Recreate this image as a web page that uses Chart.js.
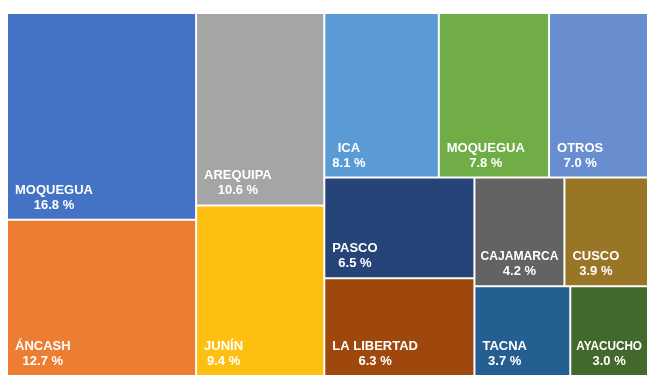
<!DOCTYPE html>
<html lang="es">
<head>
<meta charset="utf-8">
<title>Participación por región</title>
<script src="https://cdn.jsdelivr.net/npm/chart.js@4.4.1/dist/chart.umd.min.js"></script>
<style>
  html, body { margin: 0; padding: 0; background: #ffffff; }
  #wrap { width: 648px; height: 376px; position: relative; }
</style>
</head>
<body>
<div id="wrap"><canvas id="chart"></canvas></div>
<script>
// Regions, ordered from largest to smallest share
const regions = ['MOQUEGUA', 'ÁNCASH', 'AREQUIPA', 'JUNÍN', 'ICA', 'MOQUEGUA', 'OTROS',
                 'PASCO', 'LA LIBERTAD', 'CAJAMARCA', 'CUSCO', 'TACNA', 'AYACUCHO'];
// Share of the total, in percent
const shares = [16.8, 12.7, 10.6, 9.4, 8.1, 7.8, 7.0, 6.5, 6.3, 4.2, 3.9, 3.7, 3.0];
// Fill colour of each tile
const tileColors = ['#4472C4', '#ED7D31', '#A5A5A5', '#FCBF12', '#5B9BD5', '#70AD47', '#698ED0',
                    '#264478', '#9E480E', '#636363', '#997526', '#255E91', '#43682B'];
// How many consecutive tiles go into each strip of the layout
const stripSizes = [2, 2, 3, 2, 2, 1, 1];

// A small strip treemap: each strip takes the share of the remaining box
// given by its values, laid against the shorter side of that box.
class TreemapController extends Chart.DatasetController {
  static id = 'treemap';
  static defaults = { dataElementType: 'bar', datasetElementType: false };

  layout() {
    const meta = this._cachedMeta;
    const xs = meta.xScale, ys = meta.yScale;
    const values = this.getDataset().data;
    const W = Math.abs(xs.getPixelForValue(1) - xs.getPixelForValue(0));
    const H = Math.abs(ys.getPixelForValue(1) - ys.getPixelForValue(0));
    const strips = this.getDataset().strips;
    const box = { x0: 0, y0: 0, x1: 1, y1: 1 };
    let remaining = values.reduce((a, b) => a + b, 0);
    const cells = [];
    let i = 0;
    for (const n of strips) {
      const items = values.slice(i, i + n);
      const s = items.reduce((a, b) => a + b, 0);
      const bw = (box.x1 - box.x0) * W, bh = (box.y1 - box.y0) * H;
      if (bw >= bh) {
        // column on the left, tiles stacked top to bottom
        const cut = box.x0 + (box.x1 - box.x0) * s / remaining;
        let y = box.y0;
        items.forEach(v => {
          const y2 = y + (box.y1 - box.y0) * v / s;
          cells.push({ x0: box.x0, x1: cut, y0: y, y1: y2 });
          y = y2;
        });
        box.x0 = cut;
      } else {
        // row along the top, tiles side by side
        const cut = box.y0 + (box.y1 - box.y0) * s / remaining;
        let x = box.x0;
        items.forEach(v => {
          const x2 = x + (box.x1 - box.x0) * v / s;
          cells.push({ x0: x, x1: x2, y0: box.y0, y1: cut });
          x = x2;
        });
        box.y0 = cut;
      }
      remaining -= s;
      i += n;
    }
    return cells;
  }

  update(mode) {
    const meta = this._cachedMeta;
    this.updateElements(meta.data, 0, meta.data.length, mode);
  }

  updateElements(rects, start, count, mode) {
    const meta = this._cachedMeta;
    const xs = meta.xScale, ys = meta.yScale;
    const cells = this.layout();
    const gap = this.getDataset().spacing;
    for (let i = start; i < start + count; i++) {
      const c = cells[i];
      const left = xs.getPixelForValue(c.x0), right = xs.getPixelForValue(c.x1);
      const top = ys.getPixelForValue(c.y0), bottom = ys.getPixelForValue(c.y1);
      const props = {
        x: (left + right) / 2,
        width: right - left - gap,
        y: top + gap / 2,
        base: bottom - gap / 2,
        horizontal: false,
        borderSkipped: {},
        enableBorderRadius: false,
        inflateAmount: 0,
        options: this.resolveDataElementOptions(i, mode)
      };
      Object.assign(rects[i], props);
    }
  }

  draw() {
    const ctx = this._ctx;
    const meta = this._cachedMeta;
    const ds = this.getDataset();
    const area = this.chart.chartArea;
    meta.data.forEach(el => el.draw(ctx, area));
    ctx.save();
    ctx.fillStyle = '#ffffff';
    ctx.font = 'bold 13px "Liberation Sans", Arial, sans-serif';
    ctx.textAlign = 'center';
    ctx.textBaseline = 'alphabetic';
    meta.data.forEach((el, i) => {
      const left = el.x - el.width / 2;
      const bottom = Math.max(el.y, el.base);
      const room = el.width - 10;
      // each line is squeezed sideways only if the tile is too narrow for it
      const lines = [
        { text: ds.labels[i], y: bottom - 25 },
        { text: ds.data[i].toFixed(1) + ' %', y: bottom - 10 }
      ].map(l => {
        const w = ctx.measureText(l.text).width;
        const k = Math.min(1, room / w);
        return Object.assign(l, { k, w: w * k });
      });
      const blockW = Math.max(...lines.map(l => l.w));
      const pad = Math.min(7, (el.width - blockW) / 2);
      const cx = left + pad + blockW / 2;
      lines.forEach(l => {
        ctx.save();
        ctx.translate(cx, l.y);
        ctx.scale(l.k, 1);
        ctx.fillText(l.text, 0, 0);
        ctx.restore();
      });
    });
    ctx.restore();
  }
}
Chart.register(TreemapController);

const chart = new Chart(document.getElementById('chart'), {
  type: 'treemap',
  data: {
    datasets: [{
      data: shares,
      labels: regions,
      strips: stripSizes,
      spacing: 2,
      backgroundColor: tileColors,
      borderWidth: 0
    }]
  },
  options: {
    responsive: true,
    maintainAspectRatio: false,
    animation: false,
    events: [],
    layout: { padding: { left: 7, top: 13, right: 0, bottom: 0 } },
    scales: {
      x: { type: 'linear', min: 0, max: 1, display: false },
      y: { type: 'linear', min: 0, max: 1, reverse: true, display: false }
    },
    plugins: { legend: { display: false }, tooltip: { enabled: false } }
  }
});
</script>
</body>
</html>
